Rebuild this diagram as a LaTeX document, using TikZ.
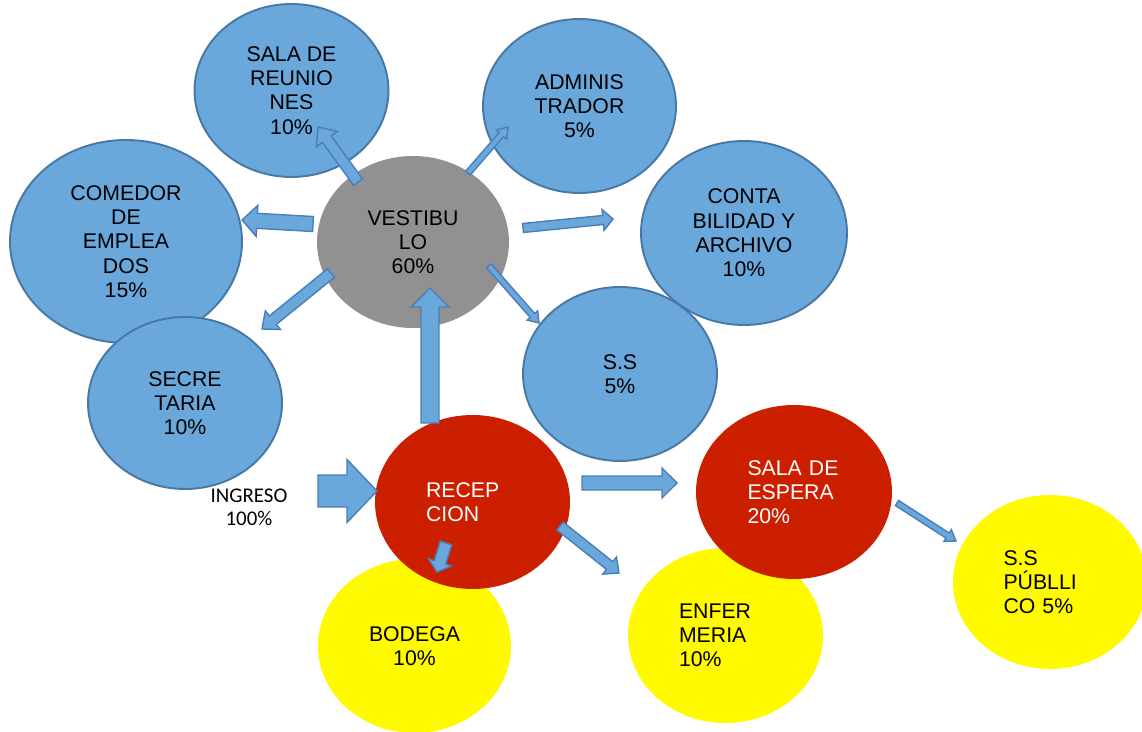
\documentclass[tikz,border=0pt]{standalone}
\usepackage{fontspec}
\setmainfont{Liberation Sans}
\newfontfamily\calibfont{Carlito}
\usetikzlibrary{shapes.geometric,calc}
\definecolor{boxblue}{RGB}{106,168,219}
\definecolor{edgeblue}{RGB}{72,120,166}
\definecolor{vgray}{RGB}{145,145,145}
\definecolor{rred}{RGB}{204,31,0}
\definecolor{yyel}{RGB}{255,250,0}
\definecolor{arrfill}{RGB}{106,168,219}
\definecolor{arredge}{RGB}{74,126,187}
\tikzset{
  room/.style={ellipse, inner sep=0pt, font=\fontsize{12.1pt}{13.8pt}\selectfont, align=center},
  bluerm/.style={room, fill=boxblue, draw=edgeblue, line width=1.1pt},
  grayrm/.style={room, fill=vgray},
  redrm/.style={room, fill=rred, text=white},
  yelrm/.style={room, fill=yyel},
  lefttext/.style={text width=1.86cm, align=left},
  sz/.style 2 args={minimum width=#1, minimum height=#2},
  blockarr/.style={fill=arrfill, draw=arredge, line width=0.8pt, line join=miter},
  ingreso/.style={font=\calibfont\fontsize{11.9pt}{13.1pt}\selectfont, align=center, inner sep=0pt}
}
\newcommand{\blockarrow}[5]{%
  \pgfmathsetlengthmacro\bsw{#3*0.01cm}%
  \pgfmathsetlengthmacro\bhw{#4*0.01cm}%
  \pgfmathsetlengthmacro\bhl{#5*0.02cm}%
  \coordinate (ba-c) at ($(#2)!\bhl!(#1)$);%
  \draw[blockarr] ($(#1)!\bsw!90:(#2)$) -- ($(ba-c)!\bsw!90:(#2)$) -- ($(ba-c)!\bhw!90:(#2)$) -- (#2) -- ($(ba-c)!\bhw!-90:(#2)$) -- ($(ba-c)!\bsw!-90:(#2)$) -- ($(#1)!\bsw!-90:(#2)$) -- cycle;%
}
\begin{document}
\begin{tikzpicture}[x=0.02cm, y=-0.02cm]
\useasboundingbox (0,0) rectangle (1142,732);
\fill[white] (0,0) rectangle (1142,732);
% rooms
\node[bluerm, sz={4.64cm}{4.06cm}] (comedor) at (126,241.5) {COMEDOR\\DE\\EMPLEA\\DOS\\15\%};
\node[bluerm, sz={3.88cm}{3.44cm}] (secre) at (185,403) {SECRE\\TARIA\\10\%};
\node[bluerm, sz={3.88cm}{3.46cm}] (reun) at (291.5,90.5) {SALA DE\\REUNIO\\NES\\10\%};
\node[bluerm, sz={3.86cm}{3.48cm}] (admin) at (579.5,106) {ADMINIS\\TRADOR\\5\%};
\node[bluerm, sz={4.12cm}{3.68cm}] (conta) at (744,233) {CONTA\\BILIDAD Y\\ARCHIVO\\10\%};
\node[bluerm, sz={3.88cm}{3.48cm}] (ss) at (620,374) {S.S\\5\%};
\node[grayrm, sz={3.84cm}{3.44cm}] (vest) at (413,242) {VESTIBU\\LO\\60\%};
\node[yelrm, sz={3.86cm}{3.48cm}] (bodega) at (414.5,646) {BODEGA\\10\%};
\node[redrm, lefttext, sz={3.90cm}{3.48cm}] (recep) at (472.5,502) {RECEP\\CION};
\node[yelrm, lefttext, sz={3.90cm}{3.50cm}] (enfer) at (725.5,635.5) {ENFER\\MERIA\\10\%};
\node[redrm, lefttext, sz={3.92cm}{3.48cm}] (espera) at (794,492) {SALA DE\\ESPERA\\20\%};
\node[yelrm, lefttext, sz={3.88cm}{3.48cm}] (publico) at (1050,582) {S.S\\PÚBLLI\\CO 5\%};
\node[ingreso] (ingreso) at (249,507.5) {INGRESO\\100\%};
% arrow end points
\coordinate (t1) at (358,182); \coordinate (h1) at (318,127);
\coordinate (t2) at (468,173); \coordinate (h2) at (508,127);
\coordinate (t3) at (313,224); \coordinate (h3) at (242,220);
\coordinate (t4) at (331,273); \coordinate (h4) at (262,329);
\coordinate (t5) at (523,228); \coordinate (h5) at (613,219);
\coordinate (t6) at (489,266); \coordinate (h6) at (539,323);
\coordinate (t7) at (430,423); \coordinate (h7) at (430,288);
\coordinate (t8) at (318,491); \coordinate (h8) at (377,491);
\coordinate (t9) at (446,543); \coordinate (h9) at (437,572);
\coordinate (t10) at (582,483); \coordinate (h10) at (677,483);
\coordinate (t11) at (560,526); \coordinate (h11) at (619,573);
\coordinate (t12) at (897,503); \coordinate (h12) at (956,541);
% block arrows
\blockarrow{t1}{h1}{11}{26}{15}
\blockarrow{t2}{h2}{6}{14}{10}
\blockarrow{t3}{h3}{15}{31}{15}
\blockarrow{t4}{h4}{11}{24}{14}
\blockarrow{t5}{h5}{9}{21}{10}
\blockarrow{t6}{h6}{6}{14}{10}
\blockarrow{t7}{h7}{18}{38}{19}
\blockarrow{t8}{h8}{32}{63}{30}
\blockarrow{t9}{h9}{12}{24}{10}
\blockarrow{t10}{h10}{14}{30}{15}
\blockarrow{t11}{h11}{10}{22}{12}
\blockarrow{t12}{h12}{6}{14}{10}
\end{tikzpicture}
\end{document}
